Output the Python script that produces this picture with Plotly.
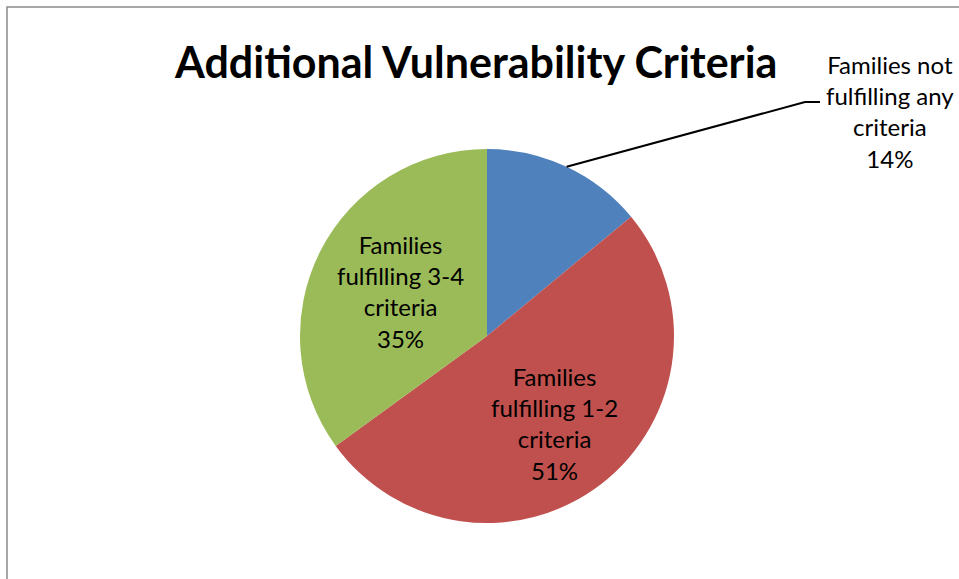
import math
import plotly.graph_objects as go

# ---- data ----
labels = ["Families not fulfilling any criteria", "Families fulfilling 1-2 criteria", "Families fulfilling 3-4 criteria"]
label_lines = [["Families not", "fulfilling any", "criteria"],
               ["Families", "fulfilling 1-2", "criteria"],
               ["Families", "fulfilling 3-4", "criteria"]]
values = [14, 51, 35]
colors = ["#4F81BD", "#C0504D", "#9BBB59"]
title = "Additional Vulnerability Criteria"

W, H = 959, 579
CX, CY, R = 487, 336, 187  # pie centre / radius in pixels

def px(x):
    return x / W

def py(y):
    return 1 - y / H

fig = go.Figure(go.Pie(
    labels=labels, values=values, sort=False, direction="clockwise", rotation=0,
    marker=dict(colors=colors, line=dict(width=0)),
    textinfo="none", hoverinfo="label+percent", showlegend=False,
    domain=dict(x=[px(CX - R), px(CX + R)], y=[py(CY + R), py(CY - R)]),
))

total = sum(values)
cum = 0
mids = []
for v in values:
    mids.append((cum + v / 2) / total * 2 * math.pi)
    cum += v

FAM = "Lato, Carlito, sans-serif"
font = dict(family=FAM, size=24, color="black")
annotations = []
shapes = []
# inside labels (slices 1 and 2)
inner_r = [None, 0.59, 0.52]
for i in (1, 2):
    a = mids[i]
    x = CX + inner_r[i] * R * math.sin(a)
    y = CY - inner_r[i] * R * math.cos(a)
    pct = round(values[i] / total * 100)
    annotations.append(dict(x=px(x), y=py(y), xref="paper", yref="paper",
                            xanchor="center", yanchor="middle",
                            text="<br>".join(label_lines[i] + [f"{pct}%"]),
                            showarrow=False, font=font, align="center"))

# outside label for slice 0 with leader line
a = mids[0]
ex = CX + R * math.sin(a)
ey = CY - R * math.cos(a)
lab_x, lab_y = 890, 112
pct0 = round(values[0] / total * 100)
annotations.append(dict(x=px(lab_x), y=py(lab_y), xref="paper", yref="paper",
                        xanchor="center", yanchor="middle",
                        text="<br>".join(label_lines[0] + [f"{pct0}%"]),
                        showarrow=False, font=font, align="center"))
shapes.append(dict(type="path", xref="paper", yref="paper",
                   path=f"M {px(ex)} {py(ey)} L {px(805)} {py(102)} L {px(820)} {py(102)}",
                   line=dict(color="black", width=2)))

# chart border
shapes.append(dict(type="rect", xref="paper", yref="paper",
                   x0=px(7), y0=py(H + 5), x1=px(W + 5), y1=py(7),
                   line=dict(color="#8a8a8a", width=1.5)))

annotations.append(dict(x=px(475), y=py(61), xref="paper", yref="paper",
                        xanchor="center", yanchor="middle",
                        text=f"<b>{title}</b>", showarrow=False,
                        font=dict(family=FAM, size=43, color="black")))

fig.update_layout(width=W, height=H, margin=dict(l=0, r=0, t=0, b=0),
                  paper_bgcolor="white", plot_bgcolor="white",
                  annotations=annotations, shapes=shapes)

fig.write_html("out.html")
